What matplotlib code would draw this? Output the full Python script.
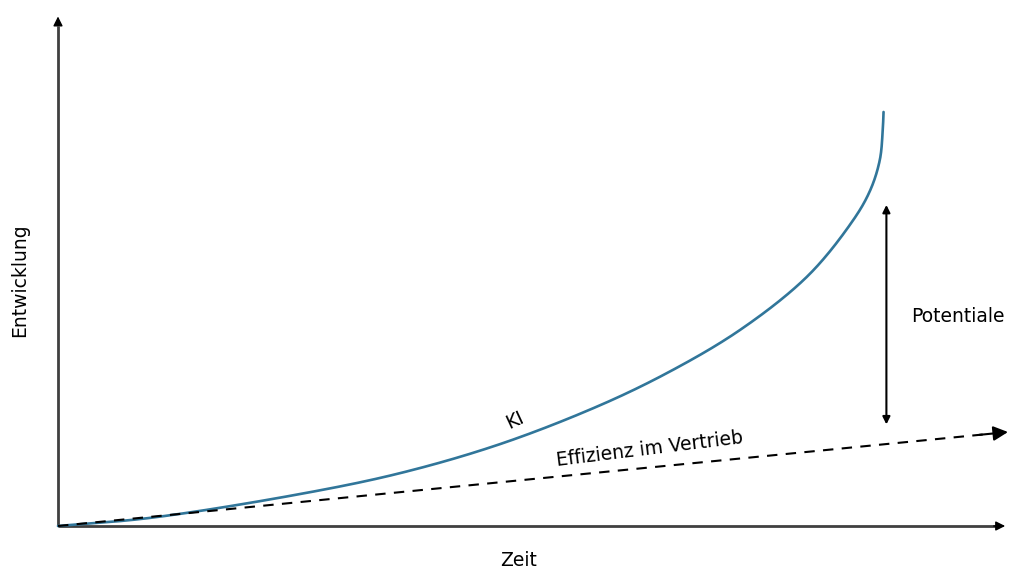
import matplotlib
matplotlib.use("Agg")
import matplotlib.pyplot as plt
import numpy as np

# Data (abstract units: time 0..10, development 0..10)
ki_time = [0.0, 0.97, 2.55, 3.60, 4.65, 5.71, 6.47, 7.18, 7.88, 8.37, 8.55, 8.65, 8.68, 8.69]
ki_value = [0.0, 0.16, 0.63, 1.04, 1.61, 2.38, 3.07, 3.86, 4.90, 6.02, 6.61, 7.20, 7.74, 8.15]
eff_time = [0.0, 10.0]
eff_value = [0.0, 1.85]
pot_x = 8.72
pot_range = [2.0, 6.32]

x_label = "Zeit"
y_label = "Entwicklung"
ki_label = "KI"
eff_label = "Effizienz im Vertrieb"
pot_label = "Potentiale"


def catmull_rom(xs, ys, n=40, alpha=0.5):
    pts = np.column_stack([xs, ys]).astype(float)
    pts = np.vstack([2 * pts[0] - pts[1], pts, 2 * pts[-1] - pts[-2]])
    out = []
    for i in range(1, len(pts) - 2):
        p0, p1, p2, p3 = pts[i - 1], pts[i], pts[i + 1], pts[i + 2]
        t0 = 0.0
        t1 = t0 + np.linalg.norm(p1 - p0) ** alpha
        t2 = t1 + np.linalg.norm(p2 - p1) ** alpha
        t3 = t2 + np.linalg.norm(p3 - p2) ** alpha
        t = np.linspace(t1, t2, n)[:, None]
        a1 = (t1 - t) / (t1 - t0) * p0 + (t - t0) / (t1 - t0) * p1
        a2 = (t2 - t) / (t2 - t1) * p1 + (t - t1) / (t2 - t1) * p2
        a3 = (t3 - t) / (t3 - t2) * p2 + (t - t2) / (t3 - t2) * p3
        b1 = (t2 - t) / (t2 - t0) * a1 + (t - t0) / (t2 - t0) * a2
        b2 = (t3 - t) / (t3 - t1) * a2 + (t - t1) / (t3 - t1) * a3
        c = (t2 - t) / (t2 - t1) * b1 + (t - t1) / (t2 - t1) * b2
        out.append(c)
    c = np.vstack(out)
    return c[:, 0], c[:, 1]


W, H = 1010, 569
fig = plt.figure(figsize=(W / 100, H / 100), dpi=100)
ax = fig.add_axes([58 / W, (H - 526) / H, (1008 - 58) / W, (526 - 18) / H])
ax.set_xlim(0, 10)
ax.set_ylim(0, 10)
ax.axis("off")

axis_col = "#404040"
ax.plot([0, 0], [0, 9.85], color=axis_col, lw=2, clip_on=False, solid_capstyle="butt")
ax.plot([0, 9.88], [0, 0], color=axis_col, lw=2, clip_on=False, solid_capstyle="butt")
ax.annotate("", xy=(0, 10.03), xytext=(0, 9.85),
            arrowprops=dict(arrowstyle="-|>", color="black", lw=1.0, mutation_scale=14,
                            shrinkA=0, shrinkB=0), annotation_clip=False)
ax.annotate("", xy=(9.97, 0), xytext=(9.85, 0),
            arrowprops=dict(arrowstyle="-|>", color="black", lw=1.0, mutation_scale=14,
                            shrinkA=0, shrinkB=0), annotation_clip=False)

# KI curve
ts, vs = catmull_rom(ki_time, ki_value)
ax.plot(ts, vs, color="#31769a", lw=1.9, solid_capstyle="round", clip_on=False)

# Efficiency dashed line with arrow head
frac = 0.975
ex = [eff_time[0], eff_time[0] + frac * (eff_time[1] - eff_time[0])]
ey = [eff_value[0], eff_value[0] + frac * (eff_value[1] - eff_value[0])]
ax.plot(ex, ey, color="black", lw=1.5, ls=(0, (5, 4)), clip_on=False)
ax.annotate("", xy=(eff_time[1], eff_value[1]),
            xytext=(eff_time[1] - 0.3, eff_value[1] - 0.3 * eff_value[1] / eff_time[1]),
            arrowprops=dict(arrowstyle="-|>", color="black", lw=1.5, mutation_scale=22,
                            shrinkA=0, shrinkB=0), annotation_clip=False)

# Potentiale double arrow
ax.annotate("", xy=(pot_x, pot_range[1]), xytext=(pot_x, pot_range[0]),
            arrowprops=dict(arrowstyle="<|-|>", color="black", lw=1.5, mutation_scale=11,
                            shrinkA=0, shrinkB=0))

fs = 13.5
ax.text(9.47, 4.13, pot_label, fontsize=fs, ha="center", va="center")
ax.text(4.81, 2.09, ki_label, fontsize=fs, ha="center", va="center", rotation=25)
ax.text(6.23, 1.52, eff_label, fontsize=fs, ha="center", va="center", rotation=7)
ax.text(4.85, -0.68, x_label, fontsize=fs, ha="center", va="center", clip_on=False)
ax.text(-0.4, 4.84, y_label, fontsize=fs, ha="center", va="center", rotation=90, clip_on=False)

fig.savefig("out.png", dpi=100, facecolor="white")
